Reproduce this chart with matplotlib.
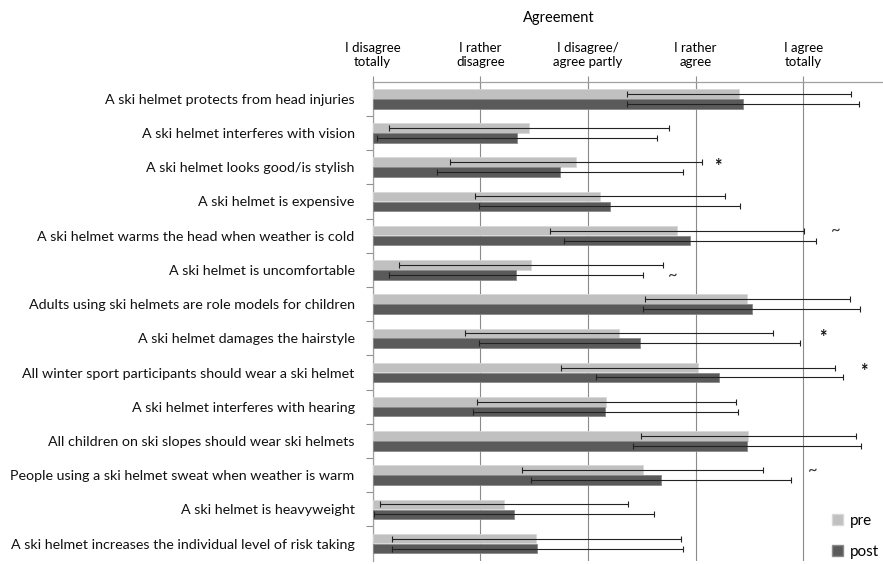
import matplotlib
matplotlib.use('Agg')
import matplotlib.pyplot as plt
import numpy as np
from matplotlib.patches import Patch

plt.rcParams['font.family'] = ['Lato', 'DejaVu Sans']

items = ['A ski helmet protects from head injuries',
         'A ski helmet interferes with vision',
         'A ski helmet looks good/is stylish',
         'A ski helmet is expensive',
         'A ski helmet warms the head when weather is cold',
         'A ski helmet is uncomfortable',
         'Adults using ski helmets are role models for children',
         'A ski helmet damages the hairstyle',
         'All winter sport participants should wear a ski helmet',
         'A ski helmet interferes with hearing',
         'All children on ski slopes should wear ski helmets',
         'People using a ski helmet sweat when weather is warm',
         'A ski helmet is heavyweight',
         'A ski helmet increases the individual level of risk taking']

pre_mean = [4.40, 2.45, 2.89, 3.11, 3.83, 2.47, 4.48, 3.29, 4.02, 3.17, 4.49, 3.51, 2.22, 2.52]
pre_sd = [1.04, 1.30, 1.17, 1.16, 1.18, 1.23, 0.95, 1.43, 1.27, 1.20, 1.00, 1.12, 1.15, 1.34]
post_mean = [4.44, 2.34, 2.74, 3.20, 3.95, 2.33, 4.52, 3.48, 4.22, 3.16, 4.48, 3.68, 2.31, 2.53]
post_sd = [1.08, 1.30, 1.14, 1.21, 1.17, 1.18, 1.01, 1.49, 1.15, 1.23, 1.06, 1.21, 1.30, 1.35]

scale_ticks = [1, 2, 3, 4, 5]
scale_labels = ['I disagree\ntotally', 'I rather\ndisagree', 'I disagree/\nagree partly',
                'I rather\nagree', 'I agree\ntotally']

# significance marks: (symbol, row, x value, series)
marks = [('*', 2, 4.21, 'pre'), ('~', 4, 5.30, 'pre'), ('~', 5, 3.79, 'post'),
         ('*', 7, 5.18, 'pre'), ('*', 8, 5.56, 'pre'), ('~', 11, 5.09, 'pre')]

W, H = 883, 564
fig = plt.figure(figsize=(W / 100, H / 100), dpi=100)
ax = fig.add_axes([372.7 / W, 1 - 560.7 / H, (W - 372.7) / W, (560.7 - 81.7) / H])

y = np.arange(len(items))
bh = 0.28
off = 0.145
ekw = dict(ecolor='#222222', elinewidth=0.8, capsize=2, capthick=0.8)
ax.barh(y - off, np.array(pre_mean) - 1, left=1, height=bh, color='#c0c0c0',
        edgecolor='#d8d8d8', linewidth=0.6, xerr=pre_sd, error_kw=ekw, zorder=3)
ax.barh(y + off, np.array(post_mean) - 1, left=1, height=bh, color='#5a5a5a',
        edgecolor='#8a8a8a', linewidth=0.6, xerr=post_sd, error_kw=ekw, zorder=3)

for sym, row, xv, ser in marks:
    yy = row - off if ser == 'pre' else row + off
    if sym == '*':
        ax.text(xv, yy + 0.12, sym, ha='center', va='center', fontsize=13,
                fontweight='bold', color='#111111')
    else:
        ax.text(xv, yy, sym, ha='center', va='center', fontsize=12, color='#333333')

ax.set_xlim(1, 5.74)
ax.set_ylim(len(items) - 0.5, -0.5)

ax.xaxis.tick_top()
ax.set_xticks(scale_ticks)
ax.set_xticklabels(scale_labels, fontsize=9.5, linespacing=1.15)
ax.tick_params(axis='x', direction='inout', length=8, color='#909090', pad=6)
ax.grid(axis='x', color='#8a8a8a', linewidth=0.8, zorder=0)

ax.set_yticks(np.arange(0.5, len(items) - 0.5))
ax.set_yticklabels([])
ax.set_yticks(y, minor=True)
ax.set_yticklabels(items, minor=True, fontsize=10.3, color='#111111')
ax.tick_params(axis='y', which='major', direction='out', length=5, color='#909090')
ax.tick_params(axis='y', which='minor', length=0, pad=13)

for s in ['right', 'bottom']:
    ax.spines[s].set_visible(False)
for s in ['top', 'left']:
    ax.spines[s].set_color('#a0a0a0')
    ax.spines[s].set_linewidth(0.9)

fig.text(559 / W, 1 - 18 / H, 'Agreement', ha='center', va='center', fontsize=10.5)

handles = [Patch(facecolor='#c0c0c0', edgecolor='#d8d8d8', label='pre'),
           Patch(facecolor='#5a5a5a', edgecolor='#8a8a8a', label='post')]
ax.legend(handles=handles, loc='lower right', frameon=False, fontsize=11,
          handlelength=0.7, handleheight=0.7, handletextpad=0.5, labelspacing=1.1,
          bbox_to_anchor=(1.02, -0.025))

fig.savefig('out.png', dpi=100)
